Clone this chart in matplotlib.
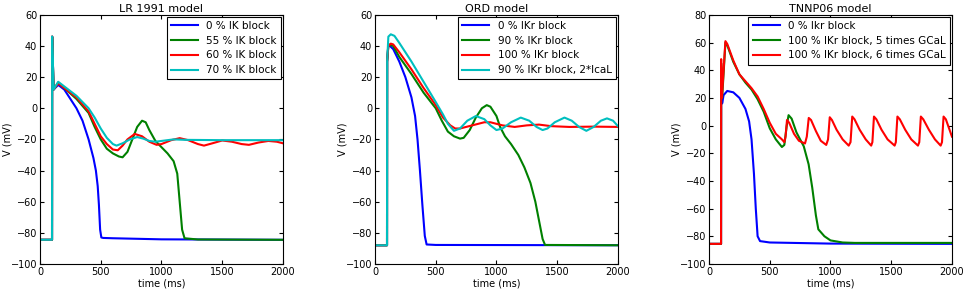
import matplotlib
matplotlib.use("Agg")
import matplotlib.pyplot as plt

# ---------------------------
# LR 1991 model
# ---------------------------
lr_t0 = [0, 99, 100, 112, 150, 200, 250, 300, 350, 400, 440, 460, 475, 485, 495, 505, 520, 600, 1000, 2000]
lr_v0 = [-84.5, -84.5, 46, 12, 15, 12, 6, 0, -8, -20, -32, -40, -50, -62, -78, -83, -83.3, -83.5, -84.2, -84.5]

lr_t55 = [0, 99, 100, 112, 150, 200, 300, 400, 450, 500, 550, 600, 650, 680, 720, 760, 800, 840, 870, 900,
          950, 1000, 1050, 1100, 1130, 1150, 1170, 1190, 1300, 2000]
lr_v55 = [-84.5, -84.5, 46, 12, 16.5, 13, 6, -3, -12, -20, -26, -29, -31, -31.5, -28, -20, -12, -8, -9, -14,
          -21, -25, -29, -34, -42, -60, -78, -83.5, -84.3, -84.5]

lr_t60 = [0, 99, 100, 112, 150, 200, 300, 400, 450, 500, 550, 600, 640, 680, 720, 780, 840, 900, 960, 1000,
          1080, 1150, 1220, 1300, 1350, 1420, 1500, 1580, 1660, 1720, 1800, 1880, 1950, 2000]
lr_v60 = [-84.5, -84.5, 46, 12, 16, 13, 7, -2, -10, -18, -23, -26.5, -27, -24, -20, -16.5, -18, -21.5, -23.5, -23,
          -20.5, -19.2, -20.5, -23, -24, -22.5, -20.7, -21.5, -23, -23.5, -22, -21, -21.5, -22.5]

lr_t70 = [0, 99, 100, 112, 150, 200, 300, 400, 450, 500, 550, 600, 630, 680, 740, 800, 850, 900, 950, 1000,
          1100, 1200, 1500, 2000]
lr_v70 = [-84.5, -84.5, 46, 12, 17, 14, 8, 0, -6, -13, -19, -23, -24, -22.5, -20, -18.5, -19.5, -21, -21.5, -21,
          -20, -20.3, -20.5, -20.5]

# ---------------------------
# ORD model
# ---------------------------
ord_t0 = [0, 99, 100, 110, 150, 200, 250, 300, 330, 350, 370, 390, 410, 425, 500, 2000]
ord_v0 = [-88, -88, 30, 41, 38, 30, 20, 7, -5, -20, -40, -62, -82, -87.5, -87.8, -88]

ord_t90 = [0, 99, 100, 110, 150, 200, 300, 400, 500, 550, 600, 650, 700, 730, 780, 830, 880, 920, 950, 1000,
           1030, 1070, 1120, 1180, 1230, 1280, 1320, 1350, 1380, 1400, 2000]
ord_v90 = [-88, -88, 30, 41, 40, 33, 22, 10, 0, -8, -15, -18, -19.5, -19, -14, -6, 0, 2, 1, -5,
           -12, -18, -23, -30, -38, -48, -60, -72, -84, -87.8, -88]

ord_t100 = [0, 99, 100, 110, 130, 150, 200, 300, 400, 500, 560, 620, 660, 700, 800, 900, 950, 1050, 1150,
            1250, 1350, 1450, 1600, 1800, 2000]
ord_v100 = [-88, -88, 30, 40, 41.5, 41, 36, 25, 13, 2, -6, -11, -13, -13, -11, -9, -9, -11, -12,
            -11, -10.5, -11.5, -12, -11.8, -12]

ord_t90c = [0, 99, 100, 110, 130, 160, 200, 300, 400, 500, 560, 600, 650, 700, 760, 830, 900, 950, 1000, 1050,
            1120, 1200, 1270, 1330, 1380, 1420, 1480, 1560, 1620, 1680, 1740, 1800, 1860, 1910, 1960, 2000]
ord_v90c = [-88, -88, 30, 46, 47.5, 46.5, 42, 30, 17, 4, -4, -10, -14.5, -13, -8, -5, -7, -11, -14, -13,
            -9, -6, -8, -12, -14, -13, -9, -6, -8, -12, -14.5, -12, -8, -6.5, -8, -11.5]

# ---------------------------
# TNNP06 model
# ---------------------------
tn_t0 = [0, 99, 100, 108, 120, 150, 200, 250, 300, 330, 350, 370, 385, 400, 420, 500, 1000, 2000]
tn_v0 = [-85.5, -85.5, 30, 16, 22, 25, 24, 20, 12, 3, -10, -35, -60, -80, -83.5, -84.5, -85.3, -85.5]

tn_t5 = [0, 99, 100, 108, 135, 150, 200, 250, 300, 350, 400, 450, 500, 550, 600, 620, 640, 655, 680, 720,
         780, 820, 850, 880, 900, 950, 1000, 1100, 1200, 2000]
tn_v5 = [-85.5, -85.5, 45, 20, 60, 58, 46, 37, 31, 26, 19, 10, -2, -10, -15.5, -14, 0, 7.5, 5, -5,
         -15, -28, -45, -65, -75, -80, -83, -84.5, -84.8, -84.8]

tn_t6 = [0, 99, 100, 106, 135, 150, 200, 250, 300, 350, 400, 450, 500, 550, 600, 620, 630, 642, 660, 700,
         740, 790, 805, 821, 840, 880, 920, 965, 980, 994, 1012, 1050, 1100, 1150, 1165, 1179, 1198, 1240,
         1290, 1335, 1345, 1358, 1378, 1420, 1470, 1528, 1538, 1551, 1571, 1615, 1665, 1720, 1731, 1744,
         1764, 1810, 1860, 1907, 1918, 1931, 1950, 2000]
tn_v6 = [-85.5, -85.5, 48, 20, 61, 59, 47, 37, 32, 27, 21, 12, 2, -6, -10, -12, -8, 4, 2, -6,
         -11, -13, -8, 5.5, 4, -4, -11, -14, -10, 6, 4, -3, -10, -14.5, -12, 6.5, 4.5, -3,
         -10, -14.5, -12, 6.5, 4.5, -3, -10, -14.5, -12, 6.5, 4.5, -3, -10, -14.5, -12, 6.5,
         4.5, -3, -10, -14.5, -12, 6.5, 4.5, -8]

panels = [
    ("LR 1991 model", (-100, 60),
     [(lr_t0, lr_v0, "b", "0 % IK block"),
      (lr_t55, lr_v55, "g", "55 % IK block"),
      (lr_t60, lr_v60, "r", "60 % IK block"),
      (lr_t70, lr_v70, "c", "70 % IK block")]),
    ("ORD model", (-100, 60),
     [(ord_t0, ord_v0, "b", "0 % IKr block"),
      (ord_t90, ord_v90, "g", "90 % IKr block"),
      (ord_t100, ord_v100, "r", "100 % IKr block"),
      (ord_t90c, ord_v90c, "c", "90 % IKr block, 2*IcaL")]),
    ("TNNP06 model", (-100, 80),
     [(tn_t0, tn_v0, "b", "0 % Ikr block"),
      (tn_t5, tn_v5, "g", "100 % IKr block, 5 times GCaL"),
      (tn_t6, tn_v6, "r", "100 % IKr block, 6 times GCaL")]),
]

fig = plt.figure(figsize=(9.64, 2.91), dpi=100)
lefts = [0.0415, 0.389, 0.7355]

for left, (title, ylim, series) in zip(lefts, panels):
    ax = fig.add_axes([left, 0.093, 0.252, 0.856])
    for t, v, c, lab in series:
        ax.plot(t, v, color=c, lw=1.5, label=lab)
    ax.set_xlim(0, 2000)
    ax.set_ylim(*ylim)
    ax.set_xticks([0, 500, 1000, 1500, 2000])
    ax.set_title(title, fontsize=8, pad=2)
    ax.set_xlabel("time (ms)", fontsize=7, labelpad=1)
    ax.set_ylabel("V (mV)", fontsize=7)
    ax.yaxis.set_label_coords(-0.112, 0.5)
    ax.tick_params(direction="in", top=True, right=True, labelsize=7, length=3, pad=2)
    for s in ax.spines.values():
        s.set_linewidth(0.8)
    leg = ax.legend(loc="upper right", fontsize=7.5, fancybox=False, framealpha=1,
                    edgecolor="black", borderaxespad=0.2, handlelength=2.6,
                    labelspacing=0.45, borderpad=0.4)
    leg.get_frame().set_linewidth(0.8)

fig.savefig("out.png", dpi=100)
